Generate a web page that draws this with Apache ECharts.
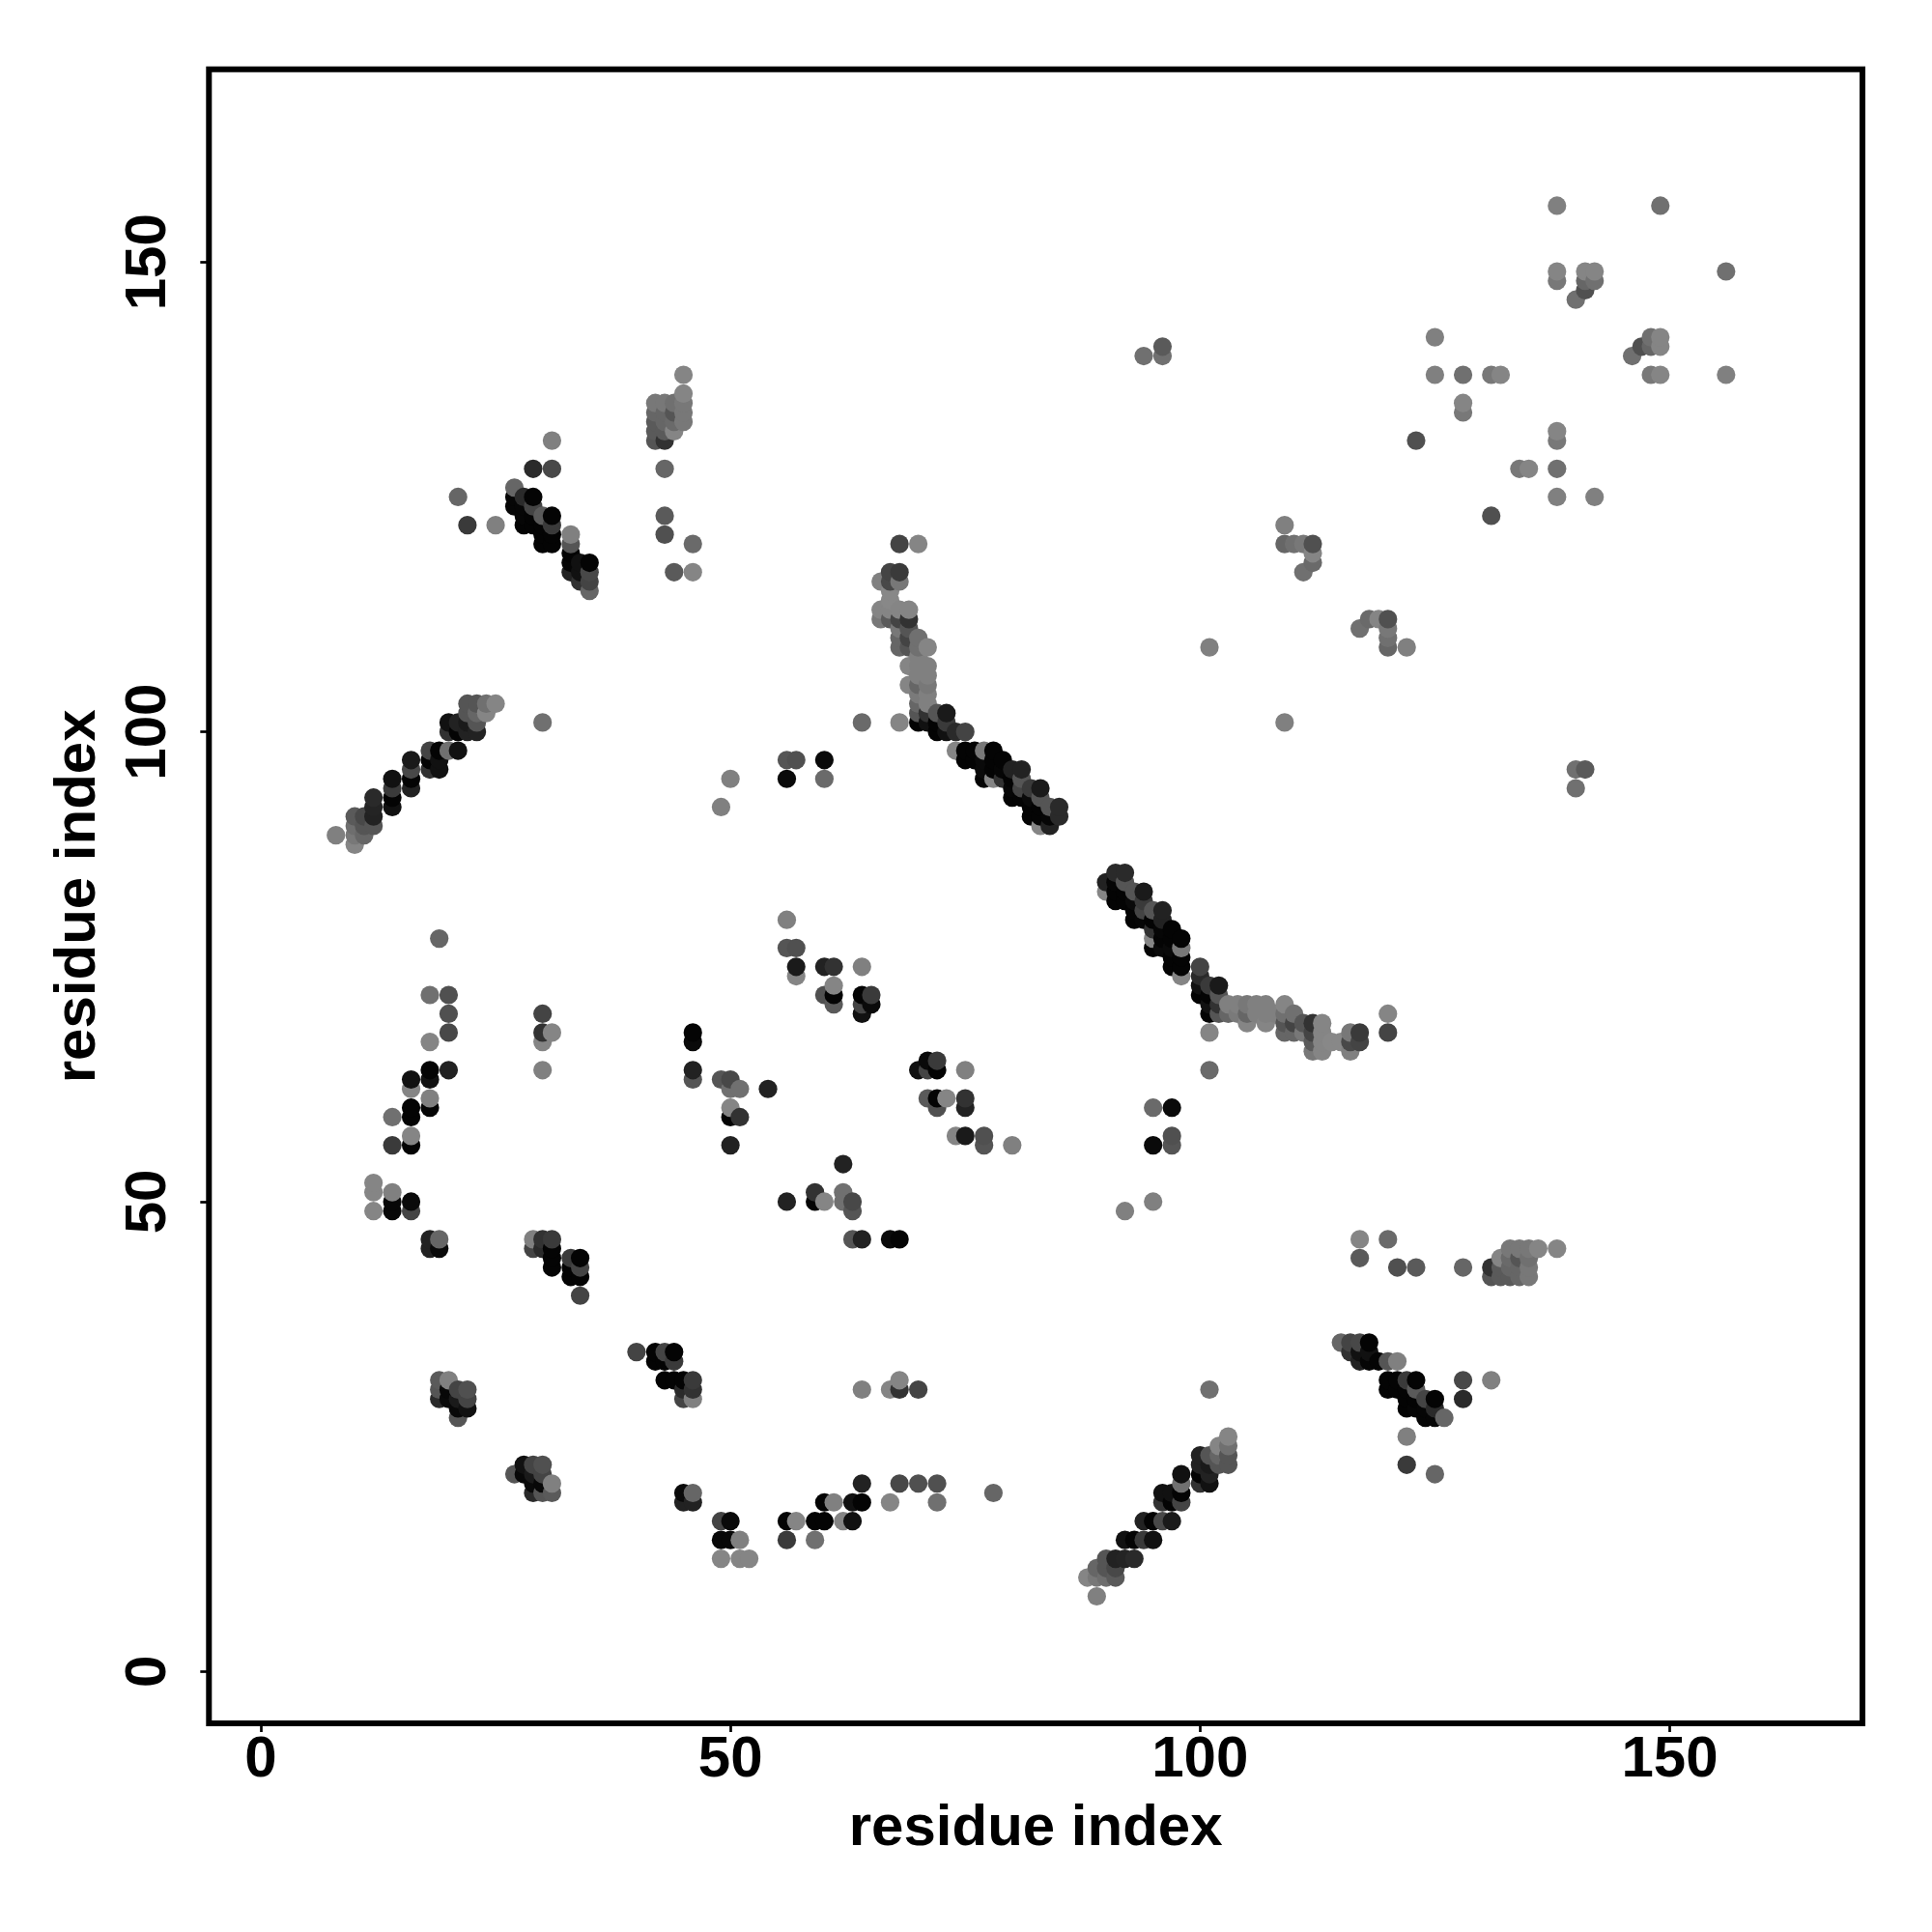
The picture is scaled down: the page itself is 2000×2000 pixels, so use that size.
<!DOCTYPE html>
<html>
<head>
<meta charset="utf-8">
<style>html,body{margin:0;padding:0;background:#fff}#chart{width:2000px;height:2000px}</style>
<script src="https://cdn.jsdelivr.net/npm/echarts@6/dist/echarts.min.js"></script>
</head>
<body>
<div id="chart"></div>
<script>
var tickValues = [0, 50, 100, 150];
var axisTitle = 'residue index';

// Contact map: residue a touches residue b (a < b). The map is symmetric.
var residueA = [8,10,11,12,14,16,18,19,20,21,22,23,24,25,27,28,29,30,31,33,34,35,42,43,44,45,46,49,50,51,54,56,57,60,61,64,65,66,67,68,69,70,71,72,73,74,75,76,77,78,79,80,81,82,83,84,85,94,96,101,109,110,111,112,123,125,128,131,132,138,140,141,142,149];
var partnersB = [
[89],
[88,89,90,91],
[89,90,91],
[49,51,52,90,91,92,93],
[49,50,51,56,59,92,93,94,95],
[49,50,56,57,59,60,62,63,94,95,96,97],
[45,46,60,61,63,64,67,72,96,97,98],
[29,30,31,45,46,78,96,97,98],
[29,30,31,64,68,70,72,98,100,101],
[27,28,29,30,98,100,101,125],
[28,29,30,100,101,102,103,122],
[100,101,102,103],
[102,103],
[103,122],
[124,125,126],
[122,123,124,125],
[45,46,122,123,124,125,128],
[45,46,64,67,68,70,101,120,121,122,123],
[43,44,45,46,68,120,121,122,123,128,131],
[42,43,44,117,118,119,120,121],
[40,42,43,44,116,117,118],
[115,116,117,118],
[131,132,133,134,135],
[121,123,128,131,132,133,134,135],
[117,132,133,134,135],
[133,134,135,136,138],
[63,64,67,68,117,120],
[63,92],
[56,59,60,62,63,95],
[59,62],
[62],
[77,80,95,97],
[74,75,77,97],
[72,75,95,97],
[71,72,73,75],
[70,71,72,75,101],
[71,72],
[112,113,116],
[112,113,114,115,116,117],
[101,109,110,111,112,113,116,117,120],
[105,107,109,110,111,112,113],
[101,102,103,104,105,106,107,108,109,110,120],
[101,102,103,104,105,106,107,109],
[100,101,102],
[100,101,102],
[98,100],
[97,98,100],
[97,98],
[95,96,97,98],
[95,96,97,98],
[95,96,97],
[93,94,95,96],
[93,94,95,96],
[91,92,93,94],
[90,91,92,93,94],
[90,91,92],
[91,92],
[140],
[140,141],
[109],
[120,122],
[120],
[117,120],
[118,119,120],
[131],
[138,142],
[134,135,138],
[138],
[138],
[148,149,156],
[146],
[147,148,149],
[148,149],
[156]
];
var contactGray = [
[128],
[133,120,110,90],
[102,85,72],
[133,133,133,85,34,36,42],
[8,8,128,58,112,17,4,58,17],
[68,10,4,133,4,4,133,17,34,4,72,26],
[34,34,4,128,17,4,133,112,50,4,68],
[42,85,90,10,102,102,17,17,4],
[10,8,128,34,72,80,80,112,50,17],
[85,8,26,68,17,4,34,102],
[17,68,80,34,26,85,85,58],
[34,85,102,85],
[133,112],
[133,128],
[6,6,102],
[4,6,6,42],
[68,128,4,4,68,4,42],
[42,50,128,133,50,68,112,4,4,4,90],
[4,4,4,58,133,4,4,58,4,72,128],
[4,4,58,34,6,4,85,128],
[68,4,68,4,50,17,17],
[102,68,72,4],
[85,90,90,102,120],
[80,90,102,50,90,102,102,120],
[90,133,106,85,112],
[120,120,120,133,133],
[85,34,10,4,133,106],
[85,128],
[34,4,133,112,72,128],
[50,112],
[34],
[85,128,10,85],
[133,26,80,80],
[80,34,106,10],
[90,4,133,50],
[17,68,4,128,106],
[10,58],
[120,133,128],
[90,133,136,136,72,68],
[133,102,102,120,68,133,120,58,68],
[133,133,85,68,85,50,133],
[4,85,102,122,102,128,128,128,112,112,133],
[17,50,128,128,120,128,128,133],
[4,4,85],
[17,58,26],
[133,42],
[4,4,68],
[4,4],
[4,10,10,120],
[133,4,4,4],
[50,6,4],
[4,6,4,34],
[4,68,85,34],
[4,4,10,58],
[133,4,4,85,26],
[34,6,85],
[42,42],
[112],
[112,90],
[128],
[102,128],
[112],
[112,120],
[106,133,80],
[80],
[128,128],
[120,133,112],
[120],
[133],
[120,133,128],
[112],
[80,102,133],
[112,133],
[112]
];

var contacts = [];
residueA.forEach(function (a, r) {
  partnersB[r].forEach(function (b, k) {
    var g = contactGray[r][k];
    contacts.push([a, b, g], [b, a, g]);
  });
});
// plotted in order of x, then y: later points paint over earlier ones
contacts.sort(function (p, q) { return p[0] - q[0] || p[1] - q[1]; });

var FONT = '"Liberation Sans", Arial, Helvetica, sans-serif';
function axis(rot, gap, labelMargin) {
  return {
    type: 'value',
    min: -5.52,
    max: 170.52,
    splitLine: { show: false },
    axisLine: { show: false, onZero: false },
    axisTick: { show: true, length: 9, customValues: tickValues, lineStyle: { color: '#000', width: 2.7 } },
    axisLabel: { show: true, customValues: tickValues, rotate: rot, margin: labelMargin, color: '#000', fontFamily: FONT, fontWeight: 'bold', fontSize: 60, showMinLabel: true, showMaxLabel: true },
    name: axisTitle,
    nameLocation: 'middle',
    nameGap: gap,
    nameMoveOverlap: false,
    nameTextStyle: { color: '#000', fontFamily: FONT, fontWeight: 'bold', fontSize: 60 }
  };
}
var chart = echarts.init(document.getElementById('chart'), null, { renderer: 'canvas', width: 2000, height: 2000 });
chart.setOption({
  animation: false,
  backgroundColor: '#fff',
  grid: { left: 216.3, top: 71.7, width: 1711.7, height: 1712.3, show: true, borderColor: '#000', borderWidth: 6, backgroundColor: 'transparent' },
  xAxis: axis(0, 79, 8),
  yAxis: axis(90, 105, 32),
  series: [{
    type: 'scatter',
    symbol: 'circle',
    symbolSize: 19.2,
    large: false,
    silent: true,
    data: contacts.map(function (p) {
      return { value: [p[0], p[1]], itemStyle: { color: 'rgb(' + p[2] + ',' + p[2] + ',' + p[2] + ')', opacity: 1 } };
    })
  }]
});
</script>
</body>
</html>
